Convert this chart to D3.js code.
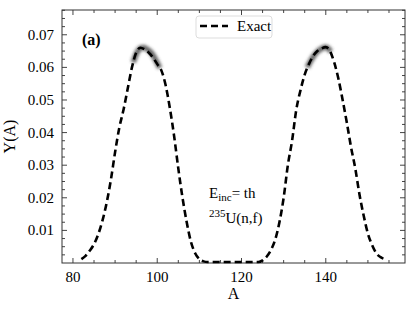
<!DOCTYPE html>
<html>
<head>
<meta charset="utf-8">
<script src="https://cdn.jsdelivr.net/npm/d3@7"></script>
<style>
  body { margin: 0; background: #fff; }
</style>
</head>
<body>
<div id="chart"></div>
<script>
// mass number A and fragment yield Y(A)
var massA = [82, 83, 84, 85, 86, 87, 88, 89, 90, 91, 92, 93, 94, 95, 96, 97, 98, 99, 100,
  101, 102, 103, 104, 105, 106, 107, 108, 109, 110, 111, 112, 114, 116, 118, 120, 122, 124,
  125, 126, 127, 128, 129, 130, 131, 132, 133, 134, 135, 136, 137, 138, 139, 140,
  141, 142, 143, 144, 145, 146, 147, 148, 149, 150, 151, 152, 153, 154]
var yieldExact = [0.0012, 0.0022, 0.0038, 0.0058, 0.0088, 0.0130, 0.0185, 0.0255, 0.0340, 0.0415,
  0.0470, 0.0535, 0.0600, 0.0645, 0.0660, 0.0655, 0.0645, 0.0630, 0.0610,
  0.0590, 0.0545, 0.0475, 0.0390, 0.0290, 0.0200, 0.0125, 0.0065, 0.0030, 0.0012, 0.0005,
  0.0003, 0.0003, 0.0003, 0.0003, 0.0003, 0.0003, 0.0003,
  0.0008, 0.0020, 0.0040, 0.0072, 0.0125, 0.0200, 0.0300, 0.0375, 0.0470, 0.0530, 0.0578,
  0.0610, 0.0635, 0.0650, 0.0658, 0.0662,
  0.0650, 0.0615, 0.0565, 0.0500, 0.0430, 0.0355, 0.0290, 0.0210, 0.0145, 0.0090, 0.0055,
  0.0030, 0.0018, 0.0012]

// grey smudge of the sampled yields near the two peaks
var smudgeLeftA = [94.3, 95.2, 96.2, 97.3, 98.5, 99.6, 100.6]
var smudgeLeftY = [0.0615, 0.0650, 0.0662, 0.0660, 0.0648, 0.0625, 0.0598]
var smudgeRightA = [135.6, 136.8, 138.0, 139.2, 140.3, 141.2]
var smudgeRightY = [0.0600, 0.0630, 0.0650, 0.0660, 0.0664, 0.0648]

var xMajor = [80, 100, 120, 140]
var yMajor = [0.01, 0.02, 0.03, 0.04, 0.05, 0.06, 0.07]

var width = 415
var height = 312
var margin = { left: 62, right: 10, top: 10, bottom: 49 }
var serif = "'Liberation Serif', 'Times New Roman', 'DejaVu Serif', serif"

var svg = d3.select("#chart").append("svg")
  .attr("width", width)
  .attr("height", height)
  .attr("font-family", serif)
  .style("font-family", serif)

var x = d3.scaleLinear()
  .domain([77.4, 158.8])
  .range([margin.left, width - margin.right])

var y = d3.scaleLinear()
  .domain([0, 0.0776])
  .range([height - margin.bottom, margin.top])

var defs = svg.append("defs")
defs.append("filter").attr("id", "blur")
  .attr("x", "-50%").attr("y", "-50%").attr("width", "200%").attr("height", "200%")
  .append("feGaussianBlur").attr("stdDeviation", 1.5)

var x0 = margin.left, x1 = width - margin.right
var y0 = height - margin.bottom, y1 = margin.top

// ticks, pointing inward on all four sides
var xMinor = d3.range(80, 158, 5)
var yMinor = d3.range(0.0025, 0.0776, 0.0025)
var tickG = svg.append("g").attr("stroke", "#444").attr("stroke-width", 1)

xMinor.forEach(function (v) {
  var len = xMajor.indexOf(v) >= 0 ? 5 : 3
  tickG.append("line").attr("x1", x(v)).attr("x2", x(v)).attr("y1", y0).attr("y2", y0 - len)
  tickG.append("line").attr("x1", x(v)).attr("x2", x(v)).attr("y1", y1).attr("y2", y1 + len)
})
yMinor.forEach(function (v, i) {
  var len = (i + 1) % 4 == 0 ? 5 : 3
  tickG.append("line").attr("y1", y(v)).attr("y2", y(v)).attr("x1", x0).attr("x2", x0 + len)
  tickG.append("line").attr("y1", y(v)).attr("y2", y(v)).attr("x1", x1).attr("x2", x1 - len)
})

svg.append("rect")
  .attr("x", x0).attr("y", y1)
  .attr("width", x1 - x0).attr("height", y0 - y1)
  .attr("fill", "none").attr("stroke", "#333").attr("stroke-width", 1)

// tick labels
svg.append("g").selectAll("text").data(xMajor).enter().append("text")
  .attr("x", function (d) { return x(d) })
  .attr("y", y0 + 19)
  .attr("text-anchor", "middle")
  .style("font-size", "15px")
  .text(function (d) { return d })

svg.append("g").selectAll("text").data(yMajor).enter().append("text")
  .attr("x", x0 - 8)
  .attr("y", function (d) { return y(d) + 5 })
  .attr("text-anchor", "end")
  .style("font-size", "15px")
  .text(function (d) { return d3.format(".2f")(d) })

// axis titles
svg.append("text")
  .attr("x", (x0 + x1) / 2).attr("y", 299)
  .attr("text-anchor", "middle")
  .style("font-size", "16px")
  .text("A")

svg.append("text")
  .attr("transform", "translate(15," + ((y0 + y1) / 2) + ") rotate(-90)")
  .attr("text-anchor", "middle")
  .style("font-size", "16px")
  .text("Y(A)")

// smudges
var smudgeLine = d3.line()
  .x(function (d) { return x(d[0]) })
  .y(function (d) { return y(d[1]) })
  .curve(d3.curveBasis)

var smudges = [d3.zip(smudgeLeftA, smudgeLeftY), d3.zip(smudgeRightA, smudgeRightY)]
svg.append("g").attr("filter", "url(#blur)")
  .selectAll("path").data(smudges).enter().append("path")
  .attr("d", smudgeLine)
  .attr("fill", "none")
  .attr("stroke", "#444")
  .attr("stroke-opacity", 0.8)
  .attr("stroke-width", 5.5)

// exact curve
var line = d3.line()
  .x(function (d) { return x(d[0]) })
  .y(function (d) { return y(d[1]) })
  .curve(d3.curveMonotoneX)

svg.append("path")
  .datum(d3.zip(massA, yieldExact))
  .attr("d", line)
  .attr("fill", "none")
  .attr("stroke", "#000")
  .attr("stroke-width", 2.6)
  .attr("stroke-dasharray", "7,4")

// panel label and annotations
svg.append("text")
  .attr("x", 82).attr("y", 45)
  .style("font-size", "16px")
  .style("font-weight", "bold")
  .text("(a)")

var t1 = svg.append("text").attr("x", 209).attr("y", 198).style("font-size", "15px")
t1.append("tspan").text("E")
t1.append("tspan").attr("dy", 3).style("font-size", "11px").text("inc")
t1.append("tspan").attr("dy", -3).text("= th")

var t2 = svg.append("text").attr("x", 209).attr("y", 223).style("font-size", "15px")
t2.append("tspan").attr("dy", -6).style("font-size", "11px").text("235")
t2.append("tspan").attr("dy", 6).text("U(n,f)")

// legend
var legend = svg.append("g")
legend.append("rect")
  .attr("x", 196).attr("y", 16)
  .attr("width", 76).attr("height", 22)
  .attr("rx", 3)
  .attr("fill", "#fff")
  .attr("stroke", "#ddd")
legend.append("line")
  .attr("x1", 200).attr("x2", 228)
  .attr("y1", 26).attr("y2", 26)
  .attr("stroke", "#000")
  .attr("stroke-width", 2.6)
  .attr("stroke-dasharray", "7,4")
legend.append("text")
  .attr("x", 237).attr("y", 31)
  .style("font-size", "15px")
  .text("Exact")
</script>
</body>
</html>
